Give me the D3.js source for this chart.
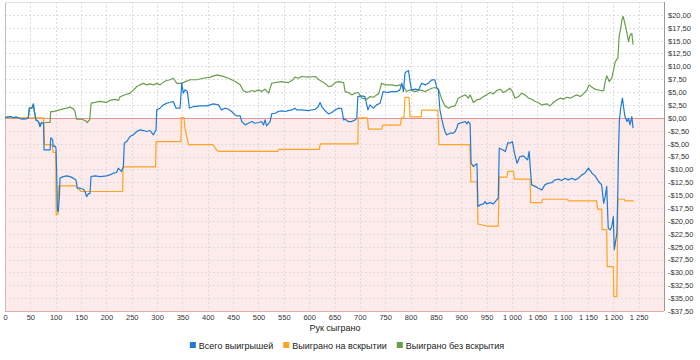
<!DOCTYPE html>
<html><head><meta charset="utf-8">
<script src="https://cdn.jsdelivr.net/npm/d3@7"></script>
<style>body{margin:0;background:#fff}svg{display:block}</style>
</head><body>
<svg id="chart" width="700" height="360"></svg>
<script>
// ---- data ----
const seriesNames = ["Всего выигрышей", "Выиграно на вскрытии", "Выиграно без вскрытия"];
const seriesColors = ["#1f7bd6", "#ffa322", "#6a9e4c"];
const xAxisTitle = "Рук сыграно";
const xTickValues = [0,50,100,150,200,250,300,350,400,450,500,550,600,650,700,750,800,850,900,950,1000,1050,1100,1150,1200,1250];
const yTickValues = [20,17.5,15,12.5,10,7.5,5,2.5,0,-2.5,-5,-7.5,-10,-12.5,-15,-17.5,-20,-22.5,-25,-27.5,-30,-32.5,-35,-37.5];

const totalWon = [[0,0],[3,0.13],[10,0.26],[16,0.06],[23,0.13],[30,-0.13],[36,-0.19],[43,-0.13],[46,0],[48,1.9],[53,1.9],[56,2.7],[58,1.2],[61,-0.4],[66,-0.7],[69,-1.7],[72,-0.9],[76,-1.0],[77,-6.2],[89,-6.2],[90,-3.95],[92,-3.95],[94,-4.27],[95,-5.57],[98.6,-5.44],[100.6,-5.89],[102,-10.74],[103.3,-17.86],[105.2,-18.2],[107.2,-15.3],[108.5,-11.7],[115,-11.4],[121.7,-11.26],[128.3,-11.4],[134.8,-11.7],[140,-12.04],[142.7,-13.66],[148,-13.66],[154.5,-13.85],[157.8,-14.3],[161,-15.3],[164.4,-14.76],[167.7,-14.63],[169.7,-11.4],[177.6,-11.26],[187.5,-11.4],[200.6,-11.26],[207,-11.07],[213.7,-10.74],[220,-10.6],[223.6,-9.77],[227,-10.1],[230,-10.42],[233.5,-9.45],[235.4,-4.92],[240,-4.6],[246.6,-3.62],[253,-3.3],[259.8,-2.65],[266.4,-2.33],[273,-2.46],[279.5,-2.65],[286,-2.46],[292.7,-3.3],[296,-2.65],[298,-2.33],[299.3,1.55],[305.8,1.88],[312.4,2.52],[319,2.85],[325.6,2.98],[332,3.17],[337.4,1.88],[345.3,1.88],[348.6,6.73],[351.8,4.79],[355,5.44],[359.8,5.11],[363.7,1.88],[371.6,2.2],[384.7,2.33],[397.9,2.33],[411,2.72],[421,2.52],[427,1.55],[434,1.88],[441,1.68],[447,1.24],[454,0.58],[457,0.39],[464,0.39],[467,-0.71],[474,-1.36],[480,-1.04],[487,-0.71],[493,-1.04],[500,-0.9],[506,-0.71],[510,-1.36],[513,-0.39],[516,-1.55],[523,-0.71],[526,0.78],[533,0.9],[539,1.24],[546,1.36],[552,1.24],[559,1.42],[566,1.55],[572,1.88],[575,1.55],[585,1.55],[598,1.42],[612,1.68],[618,2.2],[621.5,2.98],[625,2.2],[631,1.42],[638,0.78],[645,1.04],[651,1.55],[658,1.88],[664,1.81],[668,-0.39],[671,-0.26],[677,-0.71],[684,-0.71],[691,-0.39],[694,-0.06],[696,4.14],[704,4.27],[710,4.14],[716,1.55],[720,2.52],[727,1.88],[733,2.52],[740,2.85],[746,5.11],[753,4.92],[763,5.11],[773,5.11],[779,5.44],[783,6.73],[786,5.11],[789,8.67],[792,9.0],[796,9.19],[799,7.05],[802,5.44],[809,5.57],[816,5.44],[822,6.73],[829,6.41],[835,6.73],[842,7.38],[848,7.38],[852,5.76],[855,5.44],[858,1.55],[862,-0.39],[865,-1.68],[868,-2.65],[871,-3.3],[878,-2.98],[885,-2.98],[888,-2.65],[891,-2.0],[894,-1.17],[901,-0.91],[908,-0.71],[911,-1.17],[914,-0.71],[917.5,-1.17],[919.5,-8.8],[924,-9.45],[927,-9.13],[931,-8.93],[933,-17.2],[937,-16.9],[944,-16.7],[947,-16.25],[950,-16.7],[957,-16.45],[963.5,-16.7],[970,-15.9],[973,-15.6],[975,-5.89],[980,-6.08],[987,-6.54],[992,-4.79],[996,-4.92],[1001,-4.6],[1005,-6.86],[1010,-8.8],[1016,-7.5],[1023,-7.38],[1027,-7.83],[1031,-8.16],[1034,-6.5],[1037,-10.74],[1039,-13.0],[1046,-13.3],[1052,-13.66],[1059,-13.98],[1065,-13.0],[1072,-12.67],[1079,-12.56],[1085,-12.04],[1092,-11.9],[1098,-12.17],[1105,-11.72],[1111,-12.04],[1118,-11.72],[1125,-12.04],[1131,-11.72],[1138,-11.07],[1144,-10.74],[1151,-9.77],[1158,-10.74],[1164,-11.26],[1171,-12.36],[1177,-13.0],[1181,-16.58],[1184,-15.3],[1187,-13.3],[1190,-21.42],[1194,-21.75],[1197,-21.1],[1200,-19.16],[1202,-25.6],[1205,-23.7],[1207,-22.4],[1209,-13.98],[1210,-7.5],[1212,-0.39],[1215,2.2],[1218,3.82],[1221,1.55],[1223,0.26],[1227,-0.71],[1230,-0.06],[1233,-1.36],[1236.5,0.26],[1239,-2.0]];

const showdownWon = [[0,0],[76,0],[78,-5.2],[93,-5.2],[95,-6.7],[100,-6.7],[101,-18.8],[104,-18.8],[106,-13.2],[140,-13.2],[143,-13.6],[150,-14.3],[232,-14.3],[233,-9.5],[297,-9.5],[298,-4.6],[347,-4.6],[348,0.1],[353,0],[355,-2],[362,-5.2],[410,-5.2],[418,-6.3],[421,-6.5],[538,-6.5],[540,-6.1],[620,-6.1],[622,-5.05],[696,-5.05],[697,0],[715,0],[717,-2.2],[743,-2.2],[745,-1.4],[780,-1.4],[782,0],[787,0],[789,4.0],[797,4.0],[799,0.2],[821,0.2],[822,1.5],[854,1.5],[856,-5.2],[917,-5.2],[919,-12.4],[931,-12.4],[933,-20.6],[950,-21.0],[973,-21.0],[975,-11.5],[990,-11.5],[992,-10.4],[1003,-10.4],[1005,-11.9],[1036,-11.9],[1037,-16.45],[1059,-16.45],[1060,-15.8],[1110,-15.8],[1111,-16.1],[1167,-16.1],[1169,-17.7],[1177,-17.7],[1178,-21.7],[1187,-21.7],[1188,-28.9],[1200,-28.9],[1201,-34.7],[1207,-34.7],[1209,-15.8],[1222,-15.8],[1223,-16.1],[1240,-16.1]];

const nonShowdownWon = [[0,0],[3,0.13],[10,0.26],[16,0.06],[23,0.13],[30,-0.13],[36,-0.19],[43,-0.13],[46,0],[48,1.9],[53,1.9],[56,2.7],[58,1.2],[61,-0.4],[66,-0.7],[69,-1.7],[72,-0.9],[76,-1.0],[79,-0.9],[89,-0.9],[90,1.2],[95,1.2],[102,1.4],[108,1.55],[115,1.75],[122,1.9],[128,2.1],[135,1.75],[138,1.24],[141,-0.26],[151,-0.26],[158,-0.5],[162,-0.9],[167,-0.4],[170,2.85],[178,3.0],[187,3.2],[200,3.0],[207,3.4],[217,3.6],[224,3.4],[227,4.1],[237,4.5],[247,4.8],[253,5.4],[260,6.1],[266,6.4],[273,6.7],[280,6.4],[286,6.6],[293,6.4],[299,6.7],[306,6.4],[312,6.9],[319,7.25],[326,7.4],[332,7.7],[339,6.7],[349,6.7],[355,7.0],[365,7.4],[378,7.4],[391,7.7],[405,7.9],[418,8.35],[427,8.15],[441,7.7],[454,7.05],[464,6.41],[470,5.31],[477,4.92],[487,5.31],[493,5.11],[500,5.44],[506,5.11],[513,5.57],[520,4.79],[526,6.73],[533,6.86],[546,7.05],[559,6.86],[566,7.25],[572,7.9],[579,7.7],[585,8.03],[598,7.9],[612,8.03],[618,7.51],[625,7.05],[631,6.73],[638,6.08],[645,6.21],[651,6.86],[658,7.05],[668,6.86],[671,5.11],[677,4.92],[684,4.47],[691,4.79],[697,4.92],[704,3.82],[714,3.63],[720,4.14],[727,4.01],[733,4.47],[737,4.66],[743,6.73],[750,6.41],[763,6.41],[773,6.21],[779,6.41],[786,6.08],[792,5.11],[799,5.44],[809,5.11],[819,5.44],[829,5.11],[842,5.76],[848,5.9],[855,5.6],[862,3.5],[868,2.33],[875,1.88],[881,2.2],[888,2.33],[894,3.82],[901,4.14],[908,4.47],[914,3.82],[917.5,4.47],[924,2.98],[931,3.5],[937,3.63],[944,4.14],[950,4.47],[957,4.92],[963.5,4.66],[970,5.31],[977,5.57],[983,4.92],[990,5.31],[996,5.76],[1001,5.11],[1006,3.82],[1013,4.14],[1019,4.79],[1026,4.47],[1033,3.82],[1039,3.63],[1046,3.17],[1052,2.98],[1059,2.52],[1069,2.72],[1075,2.33],[1082,2.98],[1089,3.5],[1095,3.82],[1102,3.63],[1108,4.01],[1115,3.82],[1121,4.14],[1128,4.47],[1135,4.14],[1141,4.66],[1148,5.44],[1152,6.41],[1158,5.96],[1164,5.57],[1174,5.31],[1181,5.31],[1184,7.05],[1187,8.16],[1192,7.05],[1197,7.7],[1204,10.94],[1209,11.6],[1211.5,15.8],[1214,17.1],[1217,19.0],[1219.3,19.7],[1222,18.7],[1225,17.4],[1227,16.4],[1230,14.8],[1233,16.1],[1236.5,16.4],[1239,14.2]];

// ---- drawing ----
(function () {
const svg = d3.select("#chart");
const FONT = "'Liberation Sans', Arial, sans-serif";
const pL = 5, pR = 664, pT = 2, pB = 311;
const x = d3.scaleLinear().domain([0, 1300]).range([pL, pR]);
const y = d3.scaleLinear().domain([-37.5, 22.5]).range([pB, pT]);

const loc = d3.formatLocale({decimal: ",", thousands: "\u00a0", grouping: [3], currency: ["$", ""]});
const fx = loc.format(",d");
const fy = v => (v < 0 ? "-" : "") + "$" + loc.format(".2f")(Math.abs(v));

// background
svg.append("rect").attr("x", pL).attr("y", pT).attr("width", pR-pL).attr("height", pB-pT).attr("fill", "#fff");
svg.append("rect").attr("x", pL).attr("y", y(0)).attr("width", pR-pL).attr("height", pB - y(0)).attr("fill", "#fdeaea");

// grid
const grid = svg.append("g").attr("stroke", "#dcdcdc").attr("stroke-dasharray", "2,2").attr("stroke-width", 1);
grid.selectAll("line.v").data(xTickValues.filter(d => d > 0)).enter().append("line")
  .attr("x1", d => Math.round(x(d)) + 0.5).attr("x2", d => Math.round(x(d)) + 0.5)
  .attr("y1", pT).attr("y2", pB);
grid.selectAll("line.h").data(yTickValues.filter(d => d !== 0 && d > -37.5)).enter().append("line")
  .attr("y1", d => Math.round(y(d)) + 0.5).attr("y2", d => Math.round(y(d)) + 0.5)
  .attr("x1", pL).attr("x2", pR);

// zero line
svg.append("line").attr("x1", pL).attr("x2", pR).attr("y1", Math.round(y(0)) + 0.5).attr("y2", Math.round(y(0)) + 0.5)
  .attr("stroke", "#e39595").attr("stroke-width", 1);

// frame
svg.append("line").attr("x1", pL+0.5).attr("x2", pL+0.5).attr("y1", pT).attr("y2", pB).attr("stroke", "#c0c0c0");
svg.append("line").attr("x1", pL).attr("x2", pR).attr("y1", pT+0.5).attr("y2", pT+0.5).attr("stroke", "#e0e0e0");
svg.append("line").attr("x1", pL).attr("x2", pR).attr("y1", pB+0.5).attr("y2", pB+0.5).attr("stroke", "#e0b0b0");

// lines
const line = d3.line().x(d => x(d[0])).y(d => y(d[1]));
const seriesData = [nonShowdownWon, showdownWon, totalWon];
const seriesIdx = [2, 1, 0];
seriesData.forEach((s, i) => {
  svg.append("path").datum(s).attr("d", line).attr("fill", "none")
    .attr("stroke", seriesColors[seriesIdx[i]]).attr("stroke-width", 1.2).attr("stroke-linejoin", "round");
});

// right axis
const yAxis = d3.axisRight(y).tickValues(yTickValues).tickFormat(fy).tickSize(0).tickPadding(4);
const ya = svg.append("g").attr("transform", `translate(${pR},0)`).call(yAxis);
ya.select(".domain").attr("stroke", "#999").attr("d", `M0.5,${pT}V${pB}`);
ya.selectAll("text").attr("font-family", FONT).attr("font-size", 7.5).attr("fill", "#333");

// bottom axis
const xAxis = d3.axisBottom(x).tickValues(xTickValues).tickFormat(fx).tickSize(0).tickPadding(4);
const xa = svg.append("g").attr("transform", `translate(0,${pB})`).call(xAxis);
xa.select(".domain").remove();
xa.selectAll("text").attr("font-family", FONT).attr("font-size", 7.5).attr("fill", "#333");

// axis title
svg.append("text").attr("x", 335).attr("y", 331).attr("text-anchor", "middle")
  .attr("font-family", FONT).attr("font-size", 9).attr("fill", "#222").text(xAxisTitle);

// legend
const lg = svg.append("g").attr("transform", "translate(0,349)");
const items = seriesNames.map((n, i) => {
  const g = lg.append("g");
  g.append("rect").attr("x", 0).attr("y", -7).attr("width", 6).attr("height", 6).attr("fill", seriesColors[i]);
  const t = g.append("text").attr("x", 9).attr("y", 0).attr("font-family", FONT).attr("font-size", 9).attr("fill", "#222").text(n);
  return {g, w: 9 + t.node().getComputedTextLength()};
});
const gap = 10;
const total = d3.sum(items, d => d.w) + gap * (items.length - 1);
let cx = 347 - total / 2;
items.forEach(it => { it.g.attr("transform", `translate(${cx},0)`); cx += it.w + gap; });
})();
</script>
</body></html>
